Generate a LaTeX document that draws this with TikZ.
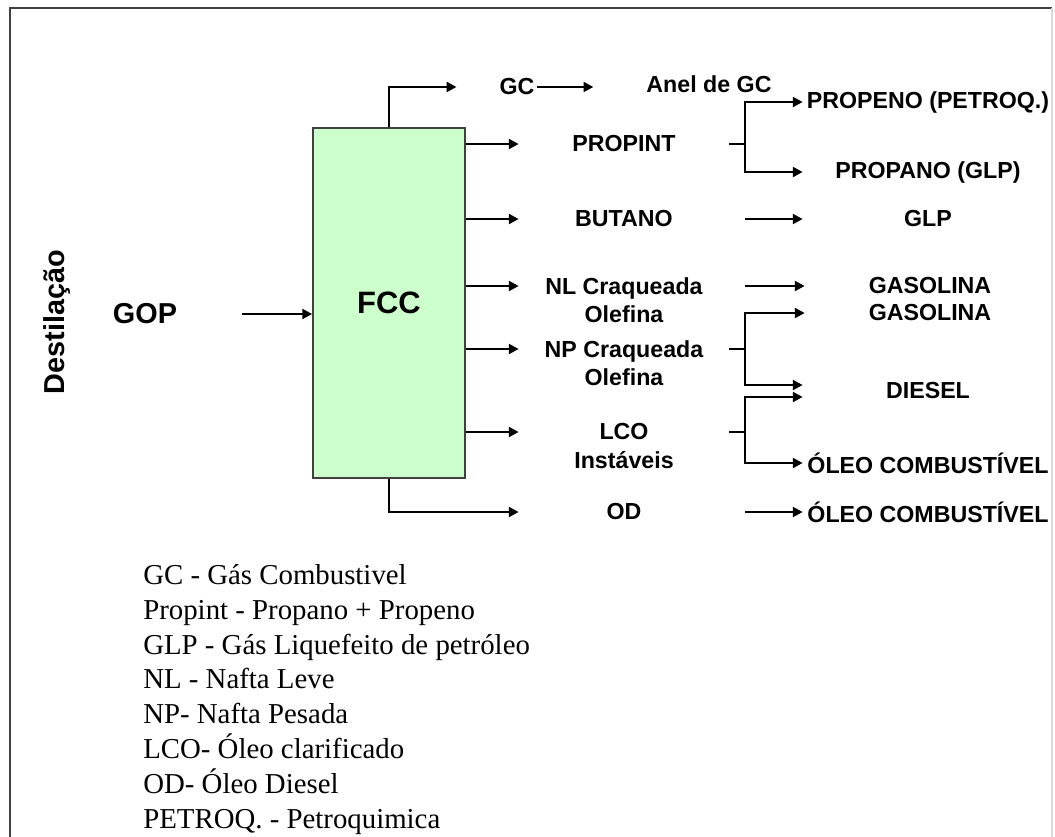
\documentclass[tikz,border=0pt]{standalone}
\usepackage{fontspec}
\setmainfont{Liberation Serif}
\setsansfont{Liberation Sans}
\usetikzlibrary{arrows.meta,calc,positioning}
\definecolor{fccGreen}{RGB}{204,255,204}
\definecolor{frameGray}{RGB}{64,64,64}

\begin{document}
\begin{tikzpicture}[x=0.025cm,y=-0.025cm,
  lbl/.style={font=\sffamily\bfseries\fontsize{16.5}{20}\selectfont,align=center,inner sep=2pt},
  midlbl/.style={lbl,minimum width=5.25cm},
  prod/.style={lbl,minimum width=6.25cm},
  biglbl/.style={font=\sffamily\bfseries\fontsize{20.5}{24}\selectfont,inner sep=2pt},
  fccbox/.style={rectangle,fill=fccGreen,draw=frameGray,line width=1.2pt,
                 minimum width=3.8cm,minimum height=8.75cm,
                 font=\sffamily\bfseries\fontsize{22}{26}\selectfont},
  flow/.style={-{Triangle[length=7pt,width=7pt]},line width=1.7pt},
  stub/.style={line width=1.7pt},
  legend/.style={font=\rmfamily\fontsize{20.5}{24.8}\selectfont,align=left,inner sep=0pt}
]
  \useasboundingbox (0,0) rectangle (1055,837);
  % frame
  \draw[frameGray,line width=1.4pt] (1052,8) -- (10,8) -- (10,860);
  \draw[gray!30,line width=0.8pt] (1052,8) -- (1052,860);
  % rows and splitter column
  \coordinate (yNL)  at (0,286);
  \coordinate (yNP)  at (0,349);
  \coordinate (yLCO) at (0,432);
  \coordinate (yDa)  at (0,385);
  \coordinate (yDb)  at (0,397);
  \coordinate (jx)   at (745,0);
  % left
  \node[biglbl,rotate=90] (dest) at (57,322) {Destilação};
  \node[biglbl] (gop) at (145,314) {GOP};
  \node[fccbox] (fcc) at (389,303) {FCC};
  \draw[flow] ($(gop.east)+(62,0)$) -- (fcc.west |- gop);
  % top branch
  \node[lbl] (gc)   at (517,87) {GC};
  \node[lbl] (anel) at (709,84) {Anel de GC};
  \draw[flow] (fcc.north) |- ($(gc.west)+(-40,0)$);
  \draw[flow] (gc.east) -- ($(anel.west |- gc)+(-50,0)$);
  % fcc products
  \node[midlbl] (propint) at (624,144) {PROPINT};
  \node[midlbl] (butano)  at (624,219) {BUTANO};
  \node[midlbl] (nl)      at (624,300) {NL Craqueada\\Olefina};
  \node[midlbl] (np)      at (624,363) {NP Craqueada\\Olefina};
  \node[midlbl] (lco)     at (624,446) {LCO\\Instáveis};
  \node[midlbl] (od)      at (624,512) {OD};
  \draw[flow] (fcc.east |- propint) -- (propint.west);
  \draw[flow] (fcc.east |- butano)  -- (butano.west);
  \draw[flow] (fcc.east |- yNL)     -- (nl.west |- yNL);
  \draw[flow] (fcc.east |- yNP)     -- (np.west |- yNP);
  \draw[flow] (fcc.east |- yLCO)    -- (lco.west |- yLCO);
  \draw[flow] (fcc.south) |- (od.west);
  % final products
  \node[prod] (propeno) at (928,102) {PROPENO (PETROQ.)};
  \node[prod] (propano) at (928,172) {PROPANO (GLP)};
  \node[prod] (glp)     at (928,219) {GLP};
  \node[prod] (gas1)    at (930,286) {GASOLINA};
  \node[prod] (gas2)    at (930,313) {GASOLINA};
  \node[prod] (diesel)  at (928,391) {DIESEL};
  \node[prod] (oleo1)   at (928,463) {ÓLEO COMBUSTÍVEL};
  \node[prod] (oleo2)   at (928,512) {ÓLEO COMBUSTÍVEL};
  % propint split
  \draw[stub] (propint.east) -- (jx |- propint);
  \draw[flow] (jx |- propint) |- (propeno.west);
  \draw[flow] (jx |- propint) |- (propano.west);
  % straight through
  \draw[flow] (jx |- butano) -- (glp.west);
  \draw[flow] (jx |- yNL) -- (gas1.west);
  % np split
  \draw[stub] (np.east |- yNP) -- (jx |- yNP);
  \draw[flow] (jx |- yNP) |- (gas2.west);
  \draw[flow] (jx |- yNP) |- (diesel.west |- yDa);
  % lco split
  \draw[stub] (lco.east |- yLCO) -- (jx |- yLCO);
  \draw[flow] (jx |- yLCO) |- (diesel.west |- yDb);
  \draw[flow] (jx |- yLCO) |- (oleo1.west);
  \draw[flow] (jx |- od) -- (oleo2.west);
  % legend
  \node[legend,anchor=north west] (leg) at (143,564) {GC - Gás Combustivel\\
    Propint - Propano + Propeno\\
    GLP - Gás Liquefeito de petróleo\\
    NL - Nafta Leve\\
    NP- Nafta Pesada\\
    LCO- Óleo clarificado\\
    OD- Óleo Diesel\\
    PETROQ. - Petroquimica};
\end{tikzpicture}
\end{document}
